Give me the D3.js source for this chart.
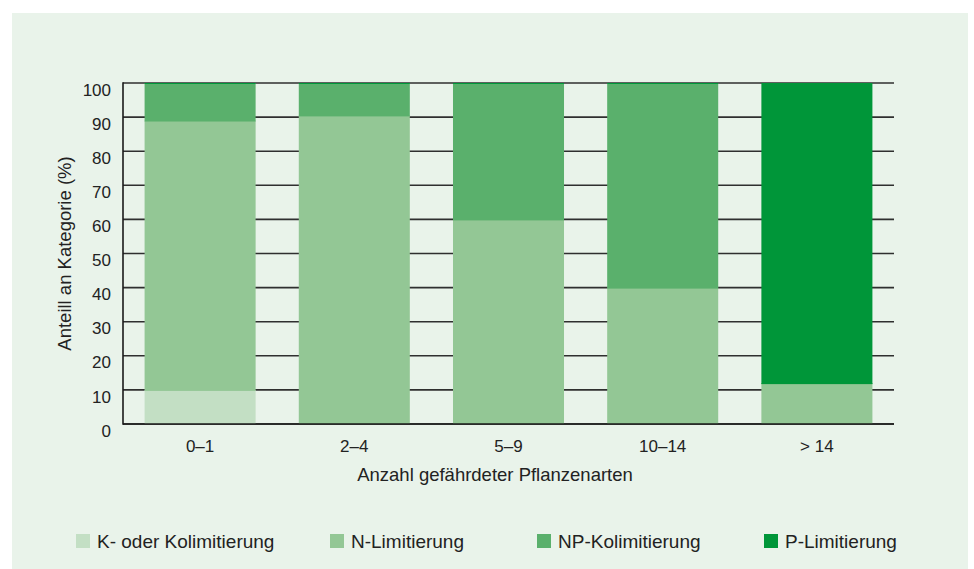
<!DOCTYPE html>
<html>
<head>
<meta charset="utf-8">
<script src="https://cdn.jsdelivr.net/npm/d3@7"></script>
<style>
  body { margin: 0; background: #fff; }
  svg { display: block; font-family: "Liberation Sans", Arial, sans-serif; }
</style>
</head>
<body>
<div id="chart"></div>
<script>

// categories and stacked shares (%)
var categories = ["0–1", "2–4", "5–9", "10–14", "> 14"];
var seriesNames = ["K- oder Kolimitierung", "N-Limitierung", "NP-Kolimitierung", "P-Limitierung"];
var kValues  = [10, 0, 0, 0, 0];
var nValues  = [79, 90.5, 60, 40, 12];
var npValues = [11, 9.5, 40, 60, 0];
var pValues  = [0, 0, 0, 0, 88];
var colors = ["#c3dfc4", "#93c795", "#5ab06c", "#009639"];
var yTicks = [0, 10, 20, 30, 40, 50, 60, 70, 80, 90, 100];
var legendX = [76, 330, 537, 764];

var width = 974, height = 569;
var margin = {top: 83, right: 80, bottom: 145, left: 123};

var rows = categories.map(function (c, i) {
    return { cat: c, s0: kValues[i], s1: nValues[i], s2: npValues[i], s3: pValues[i] };
});
var stacked = d3.stack().keys(["s0", "s1", "s2", "s3"])(rows);

var svg = d3.select("#chart").append("svg")
    .attr("width", width)
    .attr("height", height);

// light green panel
svg.append("rect")
    .attr("x", 12).attr("y", 13)
    .attr("width", 956).attr("height", 556)
    .attr("fill", "#e9f3ea");

var x = d3.scaleBand()
    .domain(categories)
    .range([margin.left, width - margin.right])
    .paddingInner(0.28)
    .paddingOuter(0.14);

var y = d3.scaleLinear()
    .domain([0, 100])
    .range([height - margin.bottom, margin.top]);

// grid lines (behind bars)
svg.append("g").selectAll("line")
    .data(yTicks)
    .enter()
    .append("line")
    .attr("x1", margin.left)
    .attr("x2", width - margin.right)
    .attr("y1", function (d) { return y(d); })
    .attr("y2", function (d) { return y(d); })
    .attr("stroke", "#2f2f2f")
    .attr("stroke-width", 1.6);

// bars, drawn slightly overlapping so no grid line peeks through the seams
svg.append("g").selectAll("g")
    .data(stacked)
    .enter()
    .append("g")
    .attr("fill", function (d, i) { return colors[i]; })
    .selectAll("rect")
    .data(function (d) { return d; })
    .enter()
    .append("rect")
    .attr("x", function (d) { return x(d.data.cat); })
    .attr("width", x.bandwidth())
    .attr("y", function (d) { return y(d[1]); })
    .attr("height", function (d) { return Math.max(0, y(d[0]) - y(d[1]) + (d[0] > 0 ? 1 : 0)); });

// axis lines
svg.append("line")
    .attr("x1", margin.left).attr("x2", margin.left)
    .attr("y1", y(100) - 0.8).attr("y2", y(0) + 0.8)
    .attr("stroke", "#1a1a1a").attr("stroke-width", 1.6);
svg.append("line")
    .attr("x1", margin.left).attr("x2", width - margin.right)
    .attr("y1", y(0)).attr("y2", y(0))
    .attr("stroke", "#1a1a1a").attr("stroke-width", 1.6);

// y tick labels hang below their grid line
svg.append("g").selectAll("text")
    .data(yTicks)
    .enter()
    .append("text")
    .attr("x", margin.left - 12)
    .attr("y", function (d) { return y(d) + 12.6; })
    .attr("text-anchor", "end")
    .attr("font-size", 17)
    .attr("fill", "#222")
    .text(function (d) { return d; });

// x labels
svg.append("g").selectAll("text")
    .data(categories)
    .enter()
    .append("text")
    .attr("x", function (d) { return x(d) + x.bandwidth() / 2; })
    .attr("y", 452)
    .attr("text-anchor", "middle")
    .attr("font-size", 17)
    .attr("fill", "#222")
    .text(function (d) { return d; });

svg.append("text")
    .attr("x", 495).attr("y", 481)
    .attr("text-anchor", "middle")
    .attr("font-size", 18.5)
    .attr("fill", "#222")
    .text("Anzahl gefährdeter Pflanzenarten");

svg.append("text")
    .attr("transform", "translate(71," + ((y(0) + y(100)) / 2) + ") rotate(-90)")
    .attr("text-anchor", "middle")
    .attr("font-size", 18.5)
    .attr("fill", "#222")
    .text("Anteill an Kategorie (%)");

// legend
var legend = svg.append("g").selectAll("g")
    .data(seriesNames)
    .enter()
    .append("g")
    .attr("transform", function (d, i) { return "translate(" + legendX[i] + ",534)"; });

legend.append("rect")
    .attr("width", 14).attr("height", 14)
    .attr("fill", function (d, i) { return colors[i]; });

legend.append("text")
    .attr("x", 21).attr("y", 14)
    .attr("font-size", 19)
    .attr("fill", "#222")
    .text(function (d) { return d; });

</script>
</body>
</html>
